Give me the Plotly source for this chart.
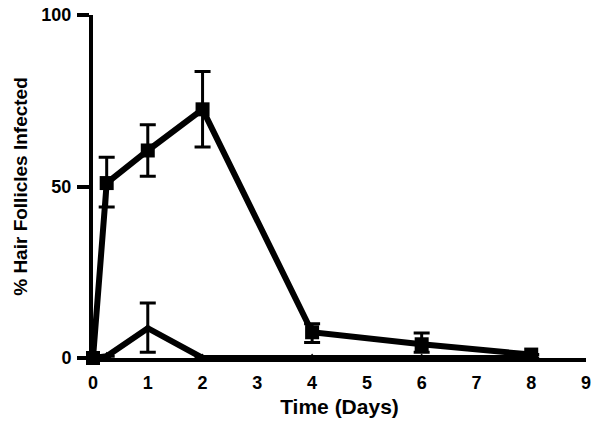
import plotly.graph_objects as go

days = [0, 0.25, 1, 2, 4, 6, 8]
infected_a = [0, 51, 60.5, 72.5, 7.5, 4, 1]
err_a_plus = [0, 7.5, 7.5, 11, 2.5, 3.3, 0]
err_a_minus = [0, 7, 7.5, 11, 3, 2.3, 0]

infected_b = [0, 0.5, 8.7, 0, 0, 0, 0]
err_b_plus = [0, 0, 7.3, 0, 0, 0, 0]
err_b_minus = [0, 0, 7, 0, 0, 0, 0]

x_ticks = [0, 1, 2, 3, 4, 5, 6, 7, 8, 9]
y_ticks = [0, 50, 100]

font_fam = "Liberation Sans, Arial, sans-serif"

fig = go.Figure()
fig.add_trace(go.Scatter(
    x=days, y=infected_b, mode="lines+markers",
    line=dict(color="black", width=6),
    marker=dict(symbol="triangle-up", size=9, color="black"),
    error_y=dict(type="data", symmetric=False, array=err_b_plus, arrayminus=err_b_minus,
                 color="black", thickness=3, width=8),
    cliponaxis=False, showlegend=False))
fig.add_trace(go.Scatter(
    x=days, y=infected_a, mode="lines+markers",
    line=dict(color="black", width=6),
    marker=dict(symbol="square", size=14, color="black"),
    error_y=dict(type="data", symmetric=False, array=err_a_plus, arrayminus=err_a_minus,
                 color="black", thickness=3, width=8),
    cliponaxis=False, showlegend=False))

fig.update_layout(
    width=600, height=429,
    margin=dict(l=93, r=14, t=15, b=71, autoexpand=False),
    paper_bgcolor="white", plot_bgcolor="white",
    font=dict(family=font_fam, color="black", size=18, weight="bold"),
    xaxis=dict(range=[0, 9], tickvals=x_ticks, ticks="", showgrid=False, zeroline=False,
               showline=True, linecolor="black", linewidth=4, automargin=False,
               tickfont=dict(size=18, weight="bold"), ticklabelstandoff=5,
               title=dict(text="Time (Days)", font=dict(size=21, weight="bold"), standoff=9)),
    yaxis=dict(range=[0, 100], tickvals=y_ticks, ticks="outside", ticklen=12, tickwidth=4,
               tickcolor="black", showgrid=False, zeroline=False, automargin=False,
               showline=True, linecolor="black", linewidth=4,
               tickfont=dict(size=18, weight="bold"), ticklabelstandoff=2,
               title=dict(text="% Hair Follicles Infected", font=dict(size=19, weight="bold"), standoff=10)),
)

fig.write_html("out.html", config={"displayModeBar": False},
               post_script="document.body.style.margin='0';")
